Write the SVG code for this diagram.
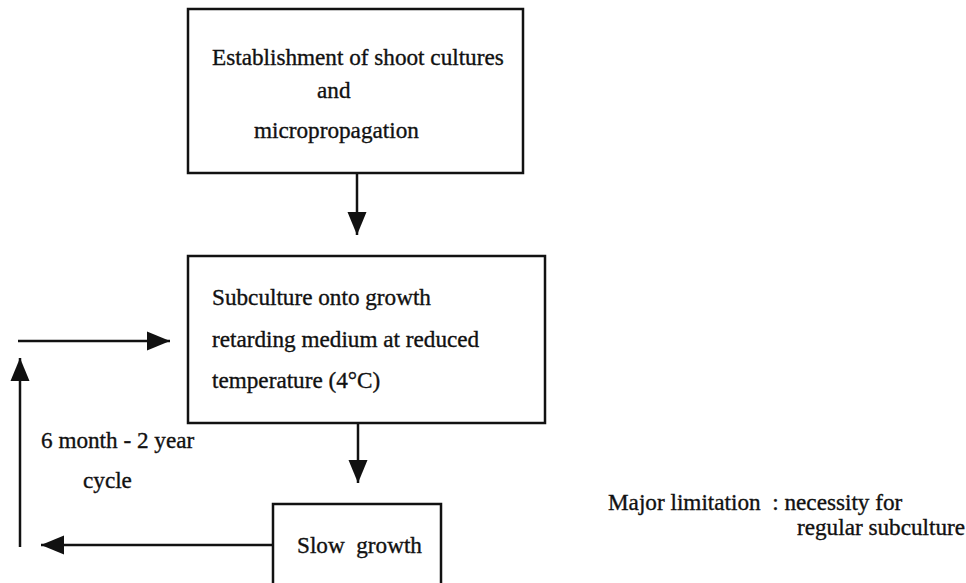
<svg xmlns="http://www.w3.org/2000/svg" width="966" height="583" viewBox="0 0 966 583">
<style>
.box{fill:#fff;stroke:#111;stroke-width:2.5}
.t{font-family:"Liberation Serif","Times New Roman",serif;font-size:23.2px;fill:#111;stroke:#111;stroke-width:0.35;white-space:pre}
.c{stroke:#111;stroke-width:2.5;fill:none;marker-end:url(#ah)}
</style>
<defs>
<marker id="ah" markerUnits="userSpaceOnUse" markerWidth="24" markerHeight="20" refX="23" refY="10" orient="auto">
<path d="M0,0.5 L23,10 L0,19.5 z" fill="#111"/>
</marker>
</defs>
<rect width="966" height="583" fill="#fff"/>
<g id="connectors">
<line class="c" x1="357" y1="173" x2="357" y2="235"/>
<line class="c" x1="18" y1="341" x2="170" y2="341"/>
<line class="c" x1="20" y1="547" x2="20" y2="358"/>
<line class="c" x1="358" y1="423" x2="358" y2="483"/>
<line class="c" x1="273" y1="545" x2="41" y2="545"/>
</g>
<g id="node-establishment">
<rect class="box" x="188" y="9" width="335" height="164"/>
<text class="t" x="212" y="65">Establishment of shoot cultures</text>
<text class="t" x="317" y="98">and</text>
<text class="t" x="254" y="138">micropropagation</text>
</g>
<g id="node-subculture">
<rect class="box" x="188" y="256" width="357" height="167"/>
<text class="t" x="212" y="305">Subculture onto growth</text>
<text class="t" x="212" y="347">retarding medium at reduced</text>
<text class="t" x="212" y="388">temperature (4°C)</text>
</g>
<g id="node-slow-growth">
<rect class="box" x="273" y="504" width="168" height="100"/>
<text class="t" x="297" y="553">Slow  growth</text>
</g>
<g id="label-cycle">
<text class="t" x="41" y="448">6 month - 2 year</text>
<text class="t" x="83" y="488">cycle</text>
</g>
<g id="label-limitation">
<text class="t" x="608" y="510">Major limitation  : necessity for</text>
<text class="t" x="797" y="535">regular subculture</text>
</g>
</svg>
